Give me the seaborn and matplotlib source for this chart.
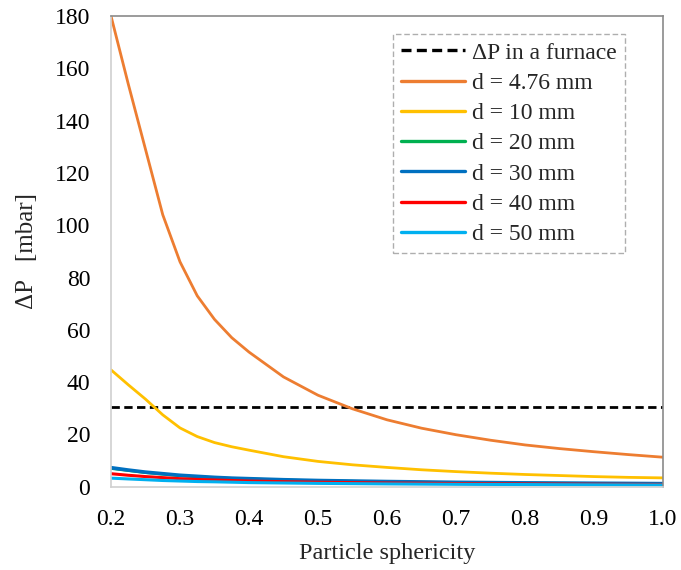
import matplotlib
matplotlib.use("Agg")
import matplotlib.pyplot as plt
import seaborn as sns
import pandas as pd

# Particle sphericity (x) and bed pressure drop (mbar) per particle diameter
sphericity = [0.200, 0.225, 0.250, 0.275, 0.300, 0.325, 0.350, 0.375, 0.40,
              0.45, 0.50, 0.55, 0.60, 0.65, 0.70, 0.75, 0.80, 0.85, 0.90,
              0.95, 1.00]
dp_476 = [180.0, 154.0, 129.0, 104.0, 86.0, 73.0, 64.0, 57.0, 51.5,
          42.0, 35.0, 29.8, 25.6, 22.4, 19.9, 17.8, 16.0, 14.6, 13.4,
          12.3, 11.3]
dp_10 = [44.7, 39.0, 33.5, 27.5, 22.5, 19.2, 16.9, 15.3, 14.0,
         11.5, 9.7, 8.4, 7.4, 6.5, 5.8, 5.2, 4.7, 4.3, 3.9, 3.6, 3.4]
dp_20 = [7.0, 6.2, 5.4, 4.8, 4.2, 3.8, 3.5, 3.2, 3.0,
         2.6, 2.3, 2.1, 1.9, 1.75, 1.6, 1.5, 1.42, 1.35, 1.28, 1.22, 1.15]
dp_30 = [7.3, 6.4, 5.6, 5.0, 4.4, 4.0, 3.6, 3.3, 3.1,
         2.7, 2.4, 2.2, 2.0, 1.85, 1.7, 1.6, 1.5, 1.42, 1.35, 1.28, 1.2]
dp_40 = [5.0, 4.4, 3.9, 3.5, 3.1, 2.8, 2.6, 2.4, 2.2,
         1.95, 1.75, 1.6, 1.45, 1.35, 1.25, 1.17, 1.1, 1.04, 0.99, 0.94, 0.9]
dp_50 = [3.3, 3.0, 2.7, 2.4, 2.2, 2.0, 1.9, 1.75, 1.6,
         1.45, 1.3, 1.2, 1.1, 1.02, 0.95, 0.9, 0.85, 0.8, 0.76, 0.73, 0.7]
furnace_dp = 30.5

labels = ["d = 4.76 mm", "d = 10 mm", "d = 20 mm",
          "d = 30 mm", "d = 40 mm", "d = 50 mm"]
series = [dp_476, dp_10, dp_20, dp_30, dp_40, dp_50]
colors = ["#ED7D31", "#FFC000", "#00B050", "#0070C0", "#FF0000", "#00B0F0"]
widths = [2.0, 2.0, 2.0, 2.6, 2.2, 2.2]

sns.set_theme(style="white")
plt.rcParams["font.family"] = ["Liberation Serif", "DejaVu Serif"]

fig = plt.figure(figsize=(6.81, 5.70), dpi=100)
ax = fig.add_axes([0.163, 0.146, 0.8106, 0.826])

frames = []
for lab, vals in zip(labels, series):
    frames.append(pd.DataFrame({"phi": sphericity, "dp": vals, "size": lab}))
df = pd.concat(frames, ignore_index=True)

furn = pd.DataFrame({"phi": [sphericity[0], sphericity[-1]],
                     "dp": [furnace_dp, furnace_dp]})
sns.lineplot(data=furn, x="phi", y="dp", ax=ax, color="black",
             linestyle=(0, (3, 1.6)), linewidth=2.0, label="ΔP in a furnace")

for lab, col, lw in zip(labels, colors, widths):
    sub = df[df["size"] == lab]
    sns.lineplot(data=sub, x="phi", y="dp", ax=ax, color=col,
                 linewidth=lw, label=lab)

ax.set_xlim(0.2, 1.0)
ax.set_ylim(0, 180)
ax.set_xticks([0.2, 0.3, 0.4, 0.5, 0.6, 0.7, 0.8, 0.9, 1.0])
ax.set_xticklabels(["0.2", "0.3", "0.4", "0.5", "0.6", "0.7", "0.8", "0.9", "1.0"])
ax.set_yticks(range(0, 181, 20))
ax.tick_params(axis="both", length=0, labelsize=17, colors="black")
ax.tick_params(axis="y", pad=15)
ax.tick_params(axis="x", pad=16)

ax.set_xlabel("Particle sphericity", fontsize=17.5, labelpad=9)
ax.set_ylabel("ΔP   [mbar]", fontsize=18, labelpad=12)

for side in ["left", "bottom"]:
    ax.spines[side].set_color("#D0D0D0")
    ax.spines[side].set_linewidth(1.2)
for side in ["top", "right"]:
    ax.spines[side].set_color("#8A8A8A")
    ax.spines[side].set_linewidth(1.2)

leg = ax.legend(loc="upper left", bbox_to_anchor=(0.511, 0.962),
                fontsize=17, frameon=True, fancybox=False,
                handlelength=2.7, handletextpad=0.3, labelspacing=0.37,
                borderpad=0.35, borderaxespad=0)
frame = leg.get_frame()
frame.set_edgecolor("#9A9A9A")
frame.set_linestyle((0, (4, 2)))
frame.set_linewidth(1.0)
for line in leg.get_lines():
    line.set_linewidth(2.4)

fig.savefig("out.png", dpi=100, facecolor="white")
